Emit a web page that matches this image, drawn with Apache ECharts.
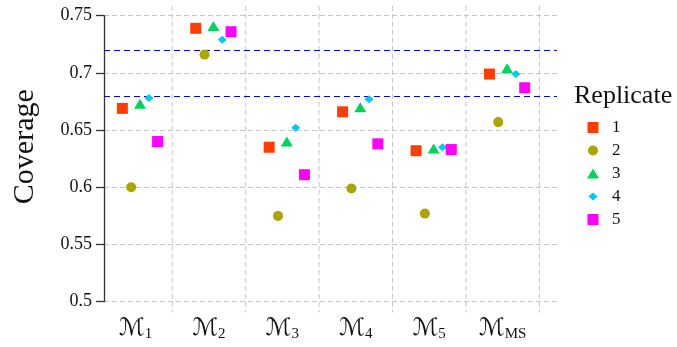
<!DOCTYPE html>
<html>
<head>
<meta charset="utf-8">
<script src="https://cdn.jsdelivr.net/npm/echarts@6/dist/echarts.min.js"></script>
<style>html,body{margin:0;padding:0;background:#fff}#c{width:677px;height:347px}</style>
</head>
<body>
<div id="c"></div>
<script>
// ---- data ----
var categories = ['M1', 'M2', 'M3', 'M4', 'M5', 'MMS'];
var tickSubs = ['1', '2', '3', '4', '5', 'MS'];
var replicates = ['1', '2', '3', '4', '5'];
var rep1 = [0.669, 0.739, 0.635, 0.666, 0.632, 0.699];
var rep2 = [0.600, 0.716, 0.575, 0.599, 0.577, 0.657];
var rep3 = [0.673, 0.741, 0.640, 0.670, 0.634, 0.704];
var rep4 = [0.678, 0.729, 0.652, 0.677, 0.635, 0.699];
var rep5 = [0.640, 0.736, 0.611, 0.638, 0.633, 0.687];
var refLines = [0.72, 0.68];

// ---- styling / layout ----
var repValues = [rep1, rep2, rep3, rep4, rep5];
var colors = ['#ff3d00', '#aba500', '#00d45a', '#00c8ff', '#ff00ff'];
var symbols = ['rect', 'circle', 'triangle', 'diamond', 'rect'];
var sizes = [[11, 11], [10, 10], [12, 10], [9, 8], [11, 11]];
var offsets = [-0.18, -0.06, 0.06, 0.18, 0.30];
var serif = 'Liberation Serif';
var boundaries = categories.map(function (c, i) { return i + 1.5; });

var chart = echarts.init(document.getElementById('c'), null, {renderer: 'canvas'});

var series = replicates.map(function (r, k) {
  return {
    type: 'scatter',
    name: r,
    symbol: symbols[k],
    symbolSize: sizes[k],
    itemStyle: {color: colors[k], opacity: 1},
    z: 5 + k,
    data: repValues[k].map(function (v, i) { return [i + 1 + offsets[k], v]; })
  };
});

series.unshift({
  type: 'custom',
  name: 'vgrid',
  silent: true,
  clip: false,
  z: 1,
  data: boundaries.map(function (b) { return [b]; }),
  renderItem: function (params, api) {
    var x = api.value(0);
    var p1 = api.coord([x, 0.7585]);
    var p2 = api.coord([x, 0.4905]);
    return {
      type: 'line',
      shape: {x1: p1[0], y1: p1[1], x2: p2[0], y2: p2[1]},
      style: {stroke: '#c6c6c6', lineWidth: 1, lineDash: [5, 3]}
    };
  }
});

series.push({
  type: 'custom',
  name: 'ref',
  silent: true,
  z: 3,
  data: refLines.map(function (v) { return [v]; }),
  renderItem: function (params, api) {
    var y = api.value(0);
    var p1 = api.coord([0.57, y]);
    var p2 = api.coord([6.74, y]);
    return {
      type: 'line',
      shape: {x1: p1[0], y1: Math.round(p1[1]) + 0.5, x2: p2[0], y2: Math.round(p2[1]) + 0.5},
      style: {stroke: '#0000ff', lineWidth: 1.2, lineDash: [6, 4]}
    };
  },
  encode: {y: 0}
});

var legends = replicates.map(function (r, k) {
  var w = sizes[k][0], h = sizes[k][1];
  var centers = [128, 151, 174, 197, 220];
  return {
    show: true,
    orient: 'vertical',
    left: 593 - w / 2,
    top: centers[k] - 9,
    padding: 0,
    itemWidth: w,
    itemHeight: h,
    selectedMode: false,
    data: [{name: r, icon: symbols[k]}],
    textStyle: {fontFamily: serif, fontSize: 17, color: '#111', padding: [0, 0, 0, 612 - (593 + w / 2 + 5)]}
  };
});

var option = {
  animation: false,
  backgroundColor: '#ffffff',
  textStyle: {fontFamily: serif},
  graphic: [{
    type: 'text', left: 574, top: 83, z: 10,
    style: {text: 'Replicate', font: '26px Liberation Serif', fill: '#111'}
  }],
  legend: legends,
  grid: {left: 104, right: 120, top: 15.7, bottom: 45.3, containLabel: false},
  xAxis: {
    type: 'value', min: 0.57, max: 6.74,
    axisLine: {show: false}, axisTick: {show: false}, splitLine: {show: false},
    axisLabel: {
      customValues: categories.map(function (c, i) { return i + 1; }),
      margin: 14,
      formatter: function (v) {
        var i = Math.round(v) - 1;
        return '{m|\u2133}{s|' + tickSubs[i] + '}';
      },
      rich: {
        m: {fontFamily: 'DejaVu Sans', fontSize: 24, color: '#111', lineHeight: 26},
        s: {fontFamily: serif, fontSize: 15, color: '#111', verticalAlign: 'bottom', lineHeight: 8}
      }
    }
  },
  yAxis: {
    type: 'value', min: 0.5, max: 0.75, interval: 0.05,
    name: 'Coverage', nameLocation: 'middle', nameRotate: 90, nameGap: 64,
    nameTextStyle: {fontFamily: serif, fontSize: 30, color: '#111', padding: [0, 0, 0, 24]},
    axisLine: {show: true, lineStyle: {color: '#333', width: 1.3}},
    axisTick: {show: true, length: 8, lineStyle: {color: '#333', width: 1.3}},
    axisLabel: {fontFamily: serif, fontSize: 18, color: '#111', margin: 12,
      formatter: function (v) { return String(+v.toFixed(2)); }},
    splitLine: {show: true, lineStyle: {color: '#c6c6c6', width: 1, type: [5, 3]}}
  },
  series: series
};
chart.setOption(option);
</script>
</body>
</html>
